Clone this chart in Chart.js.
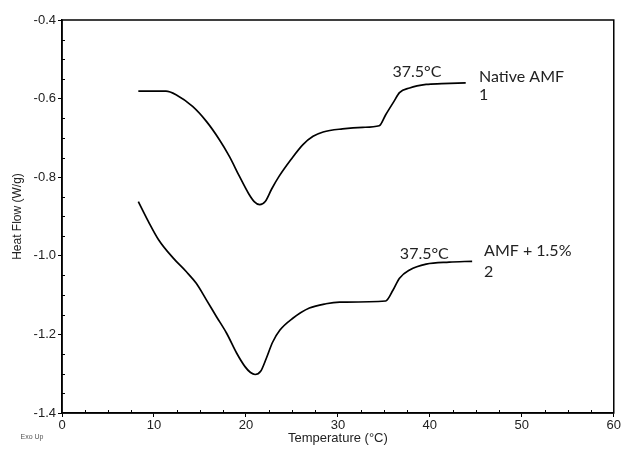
<!DOCTYPE html>
<html lang="en">
<head>
    <meta charset="UTF-8">
    <title>DSC Heat Flow</title>
    <script src="https://cdn.jsdelivr.net/npm/chart.js"></script>
    <style>
        html, body { margin: 0; padding: 0; background: #fff; }
        .master { width: 622px; height: 454px; }
    </style>
</head>
<body>
    <div class="master">
        <canvas id="myChart" width="622" height="454"></canvas>
    </div>

    <script>
        // Native AMF curve
        const nativeTemp = [8.3, 11.3, 12.4, 14.2, 15.7, 17.1, 18.2, 19.3, 20.3, 20.9, 21.5, 22.1, 22.8, 23.6, 24.9, 26.2, 27.3, 28.4, 30.5, 32.7, 34.5, 35.2, 36.1, 36.7, 37.8, 39.6, 41.3, 43.9];
        const nativeHeat = [-0.581, -0.581, -0.590, -0.620, -0.658, -0.704, -0.747, -0.798, -0.842, -0.862, -0.870, -0.862, -0.830, -0.798, -0.755, -0.717, -0.696, -0.685, -0.677, -0.673, -0.669, -0.641, -0.607, -0.585, -0.573, -0.564, -0.562, -0.560];

        // AMF + 1.5% curve
        const mixTemp = [8.3, 9.4, 10.5, 12.1, 13.5, 14.6, 15.7, 16.8, 17.9, 19.0, 19.9, 20.5, 21.0, 21.6, 22.2, 22.9, 23.7, 25.1, 26.9, 28.7, 30.2, 35.2, 36.0, 36.7, 37.8, 39.6, 42.1, 44.6];
        const mixHeat = [-0.862, -0.913, -0.959, -1.006, -1.040, -1.070, -1.112, -1.155, -1.197, -1.248, -1.282, -1.297, -1.302, -1.294, -1.262, -1.220, -1.189, -1.159, -1.133, -1.122, -1.118, -1.115, -1.087, -1.057, -1.036, -1.021, -1.016, -1.014];

        const xTicks = [0, 10, 20, 30, 40, 50, 60];
        const yTicks = [-1.4, -1.2, -1.0, -0.8, -0.6, -0.4];

        // text notes placed in data units
        const notes = [
            { text: '37.5°C', x: 38.6, y: -0.533, align: 'center' },
            { text: 'Native AMF', x: 45.35, y: -0.545, align: 'left' },
            { text: '1', x: 45.35, y: -0.590, align: 'left' },
            { text: '37.5°C', x: 39.4, y: -0.995, align: 'center' },
            { text: 'AMF + 1.5%', x: 45.9, y: -0.987, align: 'left' },
            { text: '2', x: 45.9, y: -1.041, align: 'left' }
        ];

        function toPoints(xs, ys) {
            return xs.map((x, i) => ({ x: x, y: ys[i] }));
        }

        const frame = {
            id: 'frame',
            afterDraw(chart) {
                const ctx = chart.ctx;
                const a = chart.chartArea;
                const xs = chart.scales.x, ys = chart.scales.y;
                ctx.save();
                ctx.strokeStyle = '#000';
                ctx.lineWidth = 1.5;
                ctx.strokeRect(a.left, a.top, a.right - a.left, a.bottom - a.top);

                // minor ticks, pointing inward
                ctx.lineWidth = 1;
                ctx.beginPath();
                for (let v = 2.5; v < 60; v += 2.5) {
                    if (v % 10 === 0) continue;
                    const px = Math.round(xs.getPixelForValue(v)) + 0.5;
                    ctx.moveTo(px, a.bottom);
                    ctx.lineTo(px, a.bottom - 3);
                }
                for (let k = 1; k < 20; k++) {
                    if (k % 4 === 0) continue;
                    const py = Math.round(ys.getPixelForValue(-1.4 + k * 0.05)) + 0.5;
                    ctx.moveTo(a.left, py);
                    ctx.lineTo(a.left + 3, py);
                }
                ctx.stroke();

                // notes
                ctx.fillStyle = '#222';
                ctx.font = '16px Lato, "Open Sans", sans-serif';
                ctx.textBaseline = 'middle';
                notes.forEach(n => {
                    ctx.textAlign = n.align;
                    ctx.fillText(n.text, xs.getPixelForValue(n.x), ys.getPixelForValue(n.y));
                });

                ctx.fillStyle = '#555';
                ctx.font = '7px "Liberation Sans", Arial, sans-serif';
                ctx.textAlign = 'center';
                ctx.fillText('Exo Up', 32, 437);
                ctx.restore();
            }
        };

        const ctx = document.getElementById('myChart').getContext('2d');

        const myChart = new Chart(ctx, {
            type: 'scatter',
            data: {
                datasets: [
                    {
                        label: 'Native AMF',
                        data: toPoints(nativeTemp, nativeHeat),
                        showLine: true,
                        borderColor: '#000',
                        borderWidth: 1.7,
                        pointRadius: 0,
                        cubicInterpolationMode: 'monotone'
                    },
                    {
                        label: 'AMF + 1.5%',
                        data: toPoints(mixTemp, mixHeat),
                        showLine: true,
                        borderColor: '#000',
                        borderWidth: 1.7,
                        pointRadius: 0,
                        cubicInterpolationMode: 'monotone'
                    }
                ]
            },
            options: {
                responsive: false,
                animation: false,
                layout: { padding: { top: 20, right: 7, bottom: 0, left: 0 } },
                plugins: {
                    legend: { display: false },
                    tooltip: { enabled: false }
                },
                scales: {
                    x: {
                        type: 'linear',
                        min: 0,
                        max: 60,
                        afterBuildTicks: s => { s.ticks = xTicks.map(v => ({ value: v })); },
                        afterFit: s => { s.height = 41; },
                        grid: { drawOnChartArea: false, drawTicks: true, tickLength: 4, color: '#000' },
                        border: { display: true, color: '#000', width: 1.5 },
                        ticks: {
                            color: '#222',
                            padding: 1,
                            maxRotation: 0,
                            font: { family: '"Liberation Sans", Arial, sans-serif', size: 13 }
                        },
                        title: {
                            display: true,
                            text: 'Temperature (°C)',
                            color: '#222',
                            padding: { top: 0, bottom: 8 },
                            font: { family: '"Liberation Sans", Arial, sans-serif', size: 13 }
                        }
                    },
                    y: {
                        min: -1.4,
                        max: -0.4,
                        afterBuildTicks: s => { s.ticks = yTicks.map(v => ({ value: v })); },
                        afterFit: s => { s.width = 62; },
                        grid: { drawOnChartArea: false, drawTicks: true, tickLength: 4, color: '#000' },
                        border: { display: true, color: '#000', width: 1.5 },
                        ticks: {
                            color: '#222',
                            padding: 2,
                            callback: v => v.toFixed(1),
                            font: { family: '"Liberation Sans", Arial, sans-serif', size: 13 }
                        },
                        title: {
                            display: true,
                            text: 'Heat Flow (W/g)',
                            color: '#222',
                            padding: { top: 10, bottom: 0 },
                            font: { family: '"Liberation Sans", Arial, sans-serif', size: 12 }
                        }
                    }
                }
            },
            plugins: [frame]
        });
    </script>
</body>
</html>
